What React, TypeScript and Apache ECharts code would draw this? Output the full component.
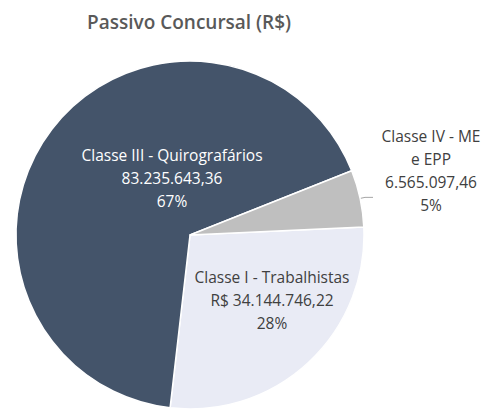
import React, { useEffect, useRef } from "react";
import * as echarts from "echarts";

const categories = ["Classe I - Trabalhistas", "Classe III - Quirografários", "Classe IV - ME e EPP"];
const labelNames = ["Classe I - Trabalhistas", "Classe III - Quirografários", "Classe IV - ME\ne EPP"];
const values = [34144746.22, 83235643.36, 6565097.46];
const valuePrefixes = ["R$ ", "", ""];
const colors = ["#E9EBF5", "#44546A", "#BFBFBF"];
const labelColors = ["#404040", "#FFFFFF", "#404040"];
// label block centres (layout)
const labelCenters = [
  [272, 300],
  [172, 178],
  [431, 170],
];

function fmtBR(v: number): string {
  const [i, d] = v.toFixed(2).split(".");
  return i.replace(/\B(?=(\d{3})+(?!\d))/g, ".") + "," + d;
}

export default function App() {
  const ref = useRef<HTMLDivElement>(null);
  useEffect(() => {
    document.body.style.margin = "0";
    const chart = echarts.init(ref.current!, null, { renderer: "svg" });
    const total = values.reduce((a, b) => a + b, 0);
    const font = "'Open Sans', 'Noto Sans', sans-serif";
    chart.setOption({
      animation: false,
      title: {
        text: "Passivo Concursal (R$)",
        left: 82,
        top: 7,
        textStyle: { fontFamily: font, fontSize: 19, fontWeight: 600, color: "#595959" },
      },
      series: [
        {
          type: "pie",
          center: [190, 235],
          radius: 174,
          startAngle: 2.6,
          clockwise: true,
          avoidLabelOverlap: false,
          itemStyle: { borderColor: "#FFFFFF", borderWidth: 1.5 },
          data: categories.map((c, i) => ({
            name: c,
            value: values[i],
            itemStyle: { color: colors[i] },
            label: {
              show: true,
              position: i === 2 ? "outside" : "inside",
              color: labelColors[i],
              fontFamily: font,
              fontSize: 15.5,
              lineHeight: 23,
              align: "center",
              formatter: () =>
                labelNames[i] + "\n" + valuePrefixes[i] + fmtBR(values[i]) + "\n" + Math.round((values[i] / total) * 100) + "%",
            },
            labelLine: i === 2 ? { show: true, length: 5, length2: 8, lineStyle: { color: "#A6A6A6", width: 1 } } : { show: false },
          })),
          labelLayout: (p: any) => {
            const r = p.labelRect;
            const [cx, cy] = labelCenters[p.dataIndex];
            if (p.dataIndex === 2) {
              return { align: "center", dx: cx - r.x, dy: cy - (r.y + r.height / 2) };
            }
            return { dx: cx - (r.x + r.width / 2), dy: cy - (r.y + r.height / 2) };
          },
        },
      ],
    });
    return () => chart.dispose();
  }, []);
  return <div ref={ref} style={{ width: 484, height: 409 }} />;
}
